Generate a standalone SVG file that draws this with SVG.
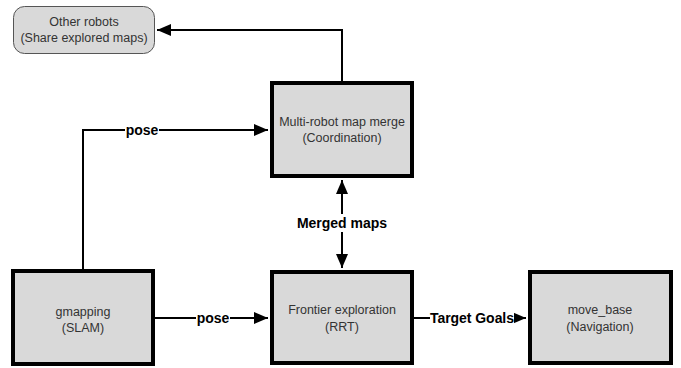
<svg xmlns="http://www.w3.org/2000/svg" width="681" height="368" viewBox="0 0 681 368">
<style>
.box{fill:#d9d9d9;stroke:#000;stroke-width:4}
.rbox{fill:#d9d9d9;stroke:#555;stroke-width:1}
.t{font-family:"Liberation Sans",Arial,sans-serif;font-size:12.5px;fill:#333;text-anchor:middle}
.lbl{font-family:"Liberation Sans",Arial,sans-serif;font-size:14px;font-weight:bold;fill:#000;text-anchor:middle}
.ln{fill:none;stroke:#000;stroke-width:2}
.bg{fill:#fff}
</style>
<defs>
<marker id="ah" markerUnits="userSpaceOnUse" markerWidth="16" markerHeight="12" refX="14" refY="6" orient="auto">
<path d="M0,0 L14,6 L0,12 Z" fill="#000"/>
</marker>
</defs>
<rect width="681" height="368" fill="#fff"/>
<g id="connectors">
<path class="ln" d="M342,81 V30 H157" marker-end="url(#ah)"/>
<path class="ln" d="M83,269 V130 H268" marker-end="url(#ah)"/>
<path class="ln" d="M155,318 H268" marker-end="url(#ah)"/>
<path class="ln" d="M414,318 H526" marker-end="url(#ah)"/>
<path class="ln" d="M342,223 V180" marker-end="url(#ah)"/>
<path class="ln" d="M342,223 V268" marker-end="url(#ah)"/>
<rect class="bg" x="125" y="121" width="34" height="18"/>
<text class="lbl" x="142" y="135">pose</text>
<rect class="bg" x="196" y="309" width="34" height="18"/>
<text class="lbl" x="213" y="323">pose</text>
<rect class="bg" x="430" y="309" width="84" height="18"/>
<text class="lbl" x="472" y="323" textLength="84">Target Goals</text>
<rect class="bg" x="296" y="214" width="92" height="18"/>
<text class="lbl" x="342" y="228">Merged maps</text>
</g>
<g id="other-robots">
<rect class="rbox" x="13.5" y="6.5" width="141" height="47" rx="11"/>
<text class="t" x="84" y="26">Other robots</text>
<text class="t" x="84" y="42">(Share explored maps)</text>
</g>
<g id="map-merge">
<rect class="box" x="272" y="83" width="140" height="93"/>
<text class="t" x="342" y="126">Multi-robot map merge</text>
<text class="t" x="342" y="142">(Coordination)</text>
</g>
<g id="gmapping">
<rect class="box" x="13" y="271" width="140" height="93"/>
<text class="t" x="83" y="316">gmapping</text>
<text class="t" x="83" y="332">(SLAM)</text>
</g>
<g id="frontier">
<rect class="box" x="272" y="272" width="140" height="91"/>
<text class="t" x="342" y="314">Frontier exploration</text>
<text class="t" x="342" y="331">(RRT)</text>
</g>
<g id="move-base">
<rect class="box" x="530" y="272" width="141" height="91"/>
<text class="t" x="600" y="314">move_base</text>
<text class="t" x="600" y="331">(Navigation)</text>
</g>
</svg>
